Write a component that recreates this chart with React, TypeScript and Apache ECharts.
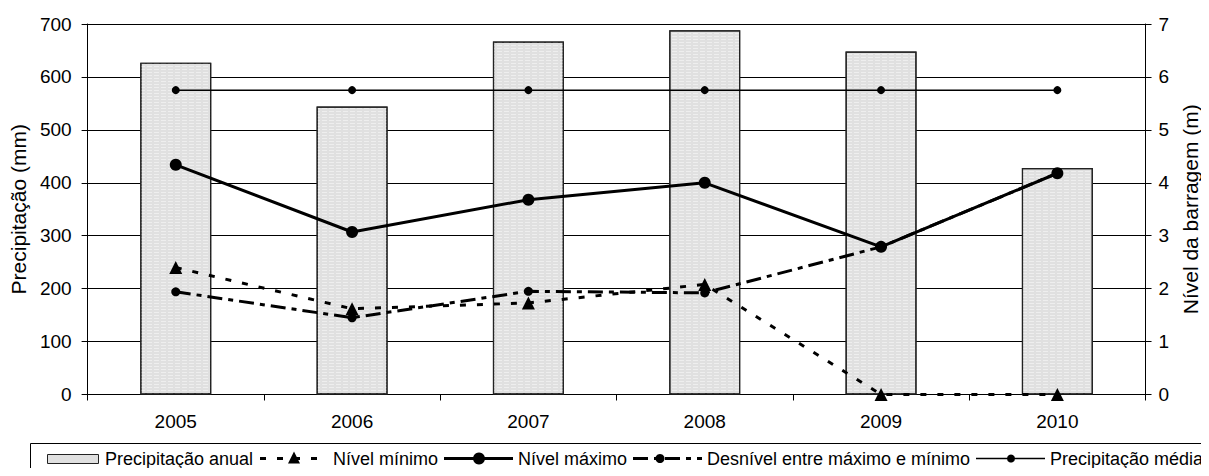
import { useEffect, useRef } from "react";
import * as echarts from "echarts";

// Annual values per year
const years = ["2005", "2006", "2007", "2008", "2009", "2010"];
const precipitacaoAnual = [627, 544, 667, 688, 648, 428];
const precipitacaoMedia = [575, 575, 575, 575, 575, 575];
const nivelMinimo = [2.4, 1.62, 1.73, 2.08, 0, 0];
const nivelMaximo = [4.34, 3.07, 3.68, 4.0, 2.79, 4.18];
const desnivel = [1.94, 1.45, 1.95, 1.92, 2.79, 4.18];

const FONT = "'Liberation Sans', Arial, sans-serif";
const INK = "#000";

const legendLabels = [
  "Precipitação anual",
  "Nível mínimo",
  "Nível máximo",
  "Desnível entre máximo e mínimo",
  "Precipitação média",
];

const DASH_MIN = [6, 11];
const DASH_DES = [15, 6, 5, 6];

function buildLegend() {
  const y = 458.5;
  const txt = (x: number, text: string) => ({
    type: "text",
    x,
    y,
    style: { text, fill: INK, font: `18px ${FONT}`, textVerticalAlign: "middle" },
  });
  const seg = (x1: number, x2: number, w: number, dash?: number[]) => ({
    type: "line",
    shape: { x1, y1: y, x2, y2: y },
    style: { stroke: INK, lineWidth: w, lineDash: dash },
  });
  return [
    {
      type: "rect",
      shape: { x: 30.5, y: 443.5, width: 1175, height: 30 },
      style: { fill: "#fff", stroke: INK, lineWidth: 1 },
    },
    // Precipitação anual
    {
      type: "rect",
      shape: { x: 47.5, y: 454.5, width: 51, height: 9 },
      style: { fill: "#e0e0e0", stroke: "#222", lineWidth: 1 },
    },
    txt(105, legendLabels[0]),
    // Nível mínimo
    seg(260, 328, 3, DASH_MIN),
    {
      type: "polygon",
      shape: { points: [[294, y - 7], [288, y + 5], [300, y + 5]] },
      style: { fill: INK },
    },
    txt(333, legendLabels[1]),
    // Nível máximo
    seg(444, 513, 3),
    { type: "circle", shape: { cx: 479, cy: y, r: 6 }, style: { fill: INK } },
    txt(518, legendLabels[2]),
    // Desnível
    seg(633, 702, 3, DASH_DES),
    { type: "circle", shape: { cx: 660, cy: y, r: 4.5 }, style: { fill: INK } },
    txt(707, legendLabels[3]),
    // Precipitação média
    seg(976, 1045, 1.5),
    { type: "circle", shape: { cx: 1011, cy: y, r: 4 }, style: { fill: INK } },
    txt(1050, legendLabels[4]),
  ];
}

export default function App() {
  const ref = useRef<HTMLDivElement>(null);

  useEffect(() => {
    if (!ref.current) return;
    const chart = echarts.init(ref.current, undefined, { renderer: "svg" });
    chart.setOption({
      animation: false,
      backgroundColor: "#fff",
      grid: { left: 87, right: 56, top: 24, bottom: 81.5 },
      xAxis: {
        type: "category",
        data: years,
        boundaryGap: true,
        axisLine: { lineStyle: { color: INK, width: 1 } },
        axisTick: { show: true, length: 6, lineStyle: { color: INK } },
        axisLabel: { color: INK, fontFamily: FONT, fontSize: 19, margin: 17 },
      },
      yAxis: [
        {
          type: "value",
          min: 0,
          max: 700,
          interval: 100,
          name: "Precipitação (mm)",
          nameLocation: "middle",
          nameGap: 55,
          nameTextStyle: { color: INK, fontFamily: FONT, fontSize: 21 },
          axisLine: { show: true, lineStyle: { color: INK, width: 1 } },
          axisTick: { show: true, length: 6, lineStyle: { color: INK } },
          axisLabel: { color: INK, fontFamily: FONT, fontSize: 19, margin: 16 },
          splitLine: { show: true, lineStyle: { color: INK, width: 1 } },
        },
        {
          type: "value",
          min: 0,
          max: 7,
          interval: 1,
          name: "Nível da barragem (m)",
          nameLocation: "middle",
          nameGap: 31,
          nameRotate: 90,
          nameTextStyle: { color: INK, fontFamily: FONT, fontSize: 21 },
          axisLine: { show: true, lineStyle: { color: INK, width: 1 } },
          axisTick: { show: true, length: 6, lineStyle: { color: INK } },
          axisLabel: { color: INK, fontFamily: FONT, fontSize: 19, margin: 13 },
          splitLine: { show: false },
        },
      ],
      series: [
        {
          name: legendLabels[0],
          type: "bar",
          data: precipitacaoAnual,
          barWidth: 71,
          itemStyle: {
            color: "#e0e0e0",
            borderColor: "#222",
            borderWidth: 1.2,
            decal: {
              symbol: "rect",
              color: "rgba(255,255,255,0.45)",
              dashArrayX: [[5, 2]],
              dashArrayY: [1, 2],
              rotation: 0,
            },
          },
          z: 1,
        },
        {
          name: legendLabels[4],
          type: "line",
          data: precipitacaoMedia,
          symbol: "circle",
          symbolSize: 8,
          lineStyle: { color: INK, width: 1.5 },
          itemStyle: { color: INK },
          z: 3,
        },
        {
          name: legendLabels[2],
          type: "line",
          yAxisIndex: 1,
          data: nivelMaximo,
          symbol: "circle",
          symbolSize: 12,
          lineStyle: { color: INK, width: 3 },
          itemStyle: { color: INK },
          z: 4,
        },
        {
          name: legendLabels[3],
          type: "line",
          yAxisIndex: 1,
          data: desnivel,
          symbol: "circle",
          symbolSize: 9,
          lineStyle: { color: INK, width: 3, type: DASH_DES },
          itemStyle: { color: INK },
          z: 4,
        },
        {
          name: legendLabels[1],
          type: "line",
          yAxisIndex: 1,
          data: nivelMinimo,
          symbol: "triangle",
          symbolSize: 13,
          lineStyle: { color: INK, width: 3, type: DASH_MIN },
          itemStyle: { color: INK },
          z: 4,
        },
      ],
      graphic: buildLegend(),
    });
    return () => chart.dispose();
  }, []);

  return <div ref={ref} style={{ width: 1209, height: 476, margin: -8 }} />;
}
